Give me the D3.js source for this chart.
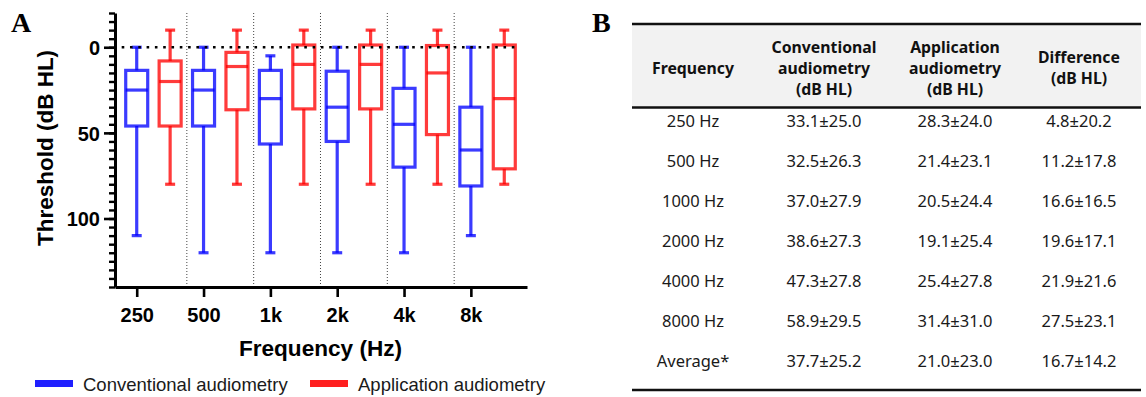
<!DOCTYPE html>
<html><head><meta charset="utf-8">
<script src="https://cdn.jsdelivr.net/npm/d3@7"></script>
<style>body{margin:0;background:#fff}</style></head>
<body><svg id="c" width="1146" height="397"></svg>
<script>
// ---- Panel A data (box plots, dB HL) ----
const categories = ["250", "500", "1k", "2k", "4k", "8k"];
const convMin = [0, 0, 5, 0, 0, 0];
const convQ1  = [13.5, 13.5, 13.5, 14, 24, 35];
const convMed = [25, 25, 30, 35, 45, 60];
const convQ3  = [46, 46, 56.5, 55, 70, 81];
const convMax = [110, 120, 120, 120, 120, 110];
const appMin = [-10, -10, -10, -10, -10, -10];
const appQ1  = [8, 3, -1.3, -1.3, -1, -1.3];
const appMed = [20, 11.25, 10, 10, 15, 30];
const appQ3  = [46, 36.5, 36, 36, 51, 71];
const appMax = [80, 80, 80, 80, 80, 80];
const yMajorTicks = [0, 50, 100];
const seriesNames = ["Conventional audiometry", "Application audiometry"];

// ---- Panel B data (table) ----
const tableHeader = [["Frequency"], ["Conventional", "audiometry", "(dB HL)"], ["Application", "audiometry", "(dB HL)"], ["Difference", "(dB HL)"]];
const tableFreq = ["250 Hz", "500 Hz", "1000 Hz", "2000 Hz", "4000 Hz", "8000 Hz", "Average*"];
const tableConv = ["33.1±25.0", "32.5±26.3", "37.0±27.9", "38.6±27.3", "47.3±27.8", "58.9±29.5", "37.7±25.2"];
const tableApp  = ["28.3±24.0", "21.4±23.1", "20.5±24.4", "19.1±25.4", "25.4±27.8", "31.4±31.0", "21.0±23.0"];
const tableDiff = ["4.8±20.2", "11.2±17.8", "16.6±16.5", "19.6±17.1", "21.9±21.6", "27.5±23.1", "16.7±14.2"];

const svg = d3.select("#c");
const F = "'Liberation Sans', Arial, sans-serif";
const TF = "'Noto Sans', 'Open Sans', sans-serif";

const x = d3.scaleLinear().domain([-0.325, 5.84]).range([115, 527]);
const y = d3.scaleLinear().domain([-20, 140]).range([13, 287]);

// vertical dotted separators
svg.append("g").selectAll("line").data(d3.range(5)).join("line")
  .attr("x1", i => x(i + 0.75)).attr("x2", i => x(i + 0.75))
  .attr("y1", y(-20)).attr("y2", y(140))
  .attr("stroke", "#444").attr("stroke-width", 1).attr("stroke-dasharray", "1,2");

// boxes
const series = [
  {min: convMin, q1: convQ1, med: convMed, q3: convQ3, max: convMax, off: 0, color: "#0000ff"},
  {min: appMin, q1: appQ1, med: appMed, q3: appQ3, max: appMax, off: 0.5, color: "#ff0000"}
];
const boxW = 22, capW = 10, sw = 3.2, op = 0.77;
series.forEach(s => {
  const g = svg.append("g").attr("stroke", s.color).attr("stroke-opacity", op)
    .attr("stroke-width", sw).attr("fill", "none");
  categories.forEach((c, i) => {
    const cx = x(i + s.off);
    g.append("line").attr("x1", cx).attr("x2", cx).attr("y1", y(s.min[i])).attr("y2", y(s.q1[i]));
    g.append("line").attr("x1", cx).attr("x2", cx).attr("y1", y(s.q3[i])).attr("y2", y(s.max[i]));
    g.append("line").attr("x1", cx - capW / 2).attr("x2", cx + capW / 2).attr("y1", y(s.min[i])).attr("y2", y(s.min[i]));
    g.append("line").attr("x1", cx - capW / 2).attr("x2", cx + capW / 2).attr("y1", y(s.max[i])).attr("y2", y(s.max[i]));
    g.append("rect").attr("x", cx - boxW / 2).attr("width", boxW)
      .attr("y", y(s.q1[i])).attr("height", y(s.q3[i]) - y(s.q1[i]));
    g.append("line").attr("x1", cx - boxW / 2).attr("x2", cx + boxW / 2).attr("y1", y(s.med[i])).attr("y2", y(s.med[i]));
  });
});

// zero dotted line
svg.append("line").attr("x1", x(-0.225)).attr("x2", x(5.71)).attr("y1", y(0)).attr("y2", y(0))
  .attr("stroke", "#000").attr("stroke-width", 2.6).attr("stroke-dasharray", "2.6,5.7");

// y axis minor
const yMinor = svg.append("g").attr("transform", "translate(115,0)")
  .call(d3.axisLeft(y).tickValues(d3.range(-20, 141, 5)).tickSize(6).tickSizeOuter(0).tickFormat(""));
yMinor.select(".domain").remove();
yMinor.selectAll(".tick line").attr("stroke-width", 2.4);
// y axis major
const yAx = svg.append("g").attr("transform", "translate(115,0)")
  .call(d3.axisLeft(y).tickValues(yMajorTicks).tickSize(11).tickSizeOuter(0).tickPadding(4));
yAx.select(".domain").attr("stroke-width", 3);
yAx.selectAll(".tick line").attr("stroke-width", 2.6);
yAx.selectAll("text").attr("font-family", F).attr("font-weight", "bold").attr("font-size", 20).attr("dy", "0.36em").attr("fill", "#000");

// x axis
const xAx = svg.append("g").attr("transform", "translate(0,287)")
  .call(d3.axisBottom(x).tickValues(d3.range(categories.length)).tickFormat(i => categories[i])
    .tickSize(10).tickSizeOuter(0).tickPadding(10.5));
xAx.select(".domain").attr("stroke-width", 3);
xAx.selectAll(".tick line").attr("stroke-width", 2.6);
xAx.selectAll("text").attr("font-family", F).attr("font-weight", "bold").attr("font-size", 20).attr("fill", "#000");

// axis titles
svg.append("text").attr("transform", "translate(53,148) rotate(-90)").attr("text-anchor", "middle")
  .attr("font-family", F).attr("font-weight", "bold").attr("font-size", 22.5).text("Threshold (dB HL)");
svg.append("text").attr("x", 320.5).attr("y", 356).attr("text-anchor", "middle")
  .attr("font-family", F).attr("font-weight", "bold").attr("font-size", 22.6).text("Frequency (Hz)");

// legend
const legX = [35, 310];
seriesNames.forEach((n, k) => {
  svg.append("rect").attr("x", legX[k]).attr("y", 380).attr("width", 38).attr("height", 7)
    .attr("fill", series[k].color).attr("fill-opacity", 0.88);
  svg.append("text").attr("x", legX[k] + 48).attr("y", 390.5).attr("font-family", F)
    .attr("font-size", 18.5).attr("fill", "#1a1a1a").text(n);
});

// panel letters
svg.append("text").attr("x", 11).attr("y", 32).attr("font-family", "'Liberation Serif', 'Times New Roman', serif")
  .attr("font-weight", "bold").attr("font-size", 28).text("A");
svg.append("text").attr("x", 592).attr("y", 32).attr("font-family", "'Liberation Serif', 'Times New Roman', serif")
  .attr("font-weight", "bold").attr("font-size", 28).text("B");

// ---- Table ----
const tX0 = 632, tX1 = 1141;
const colX = [693, 824, 955, 1079];
svg.append("rect").attr("x", tX0).attr("y", 24).attr("width", tX1 - tX0).attr("height", 83.5).attr("fill", "#f2f2f2");
[24, 107.5, 390].forEach(yy => svg.append("line").attr("x1", tX0).attr("x2", tX1).attr("y1", yy).attr("y2", yy)
  .attr("stroke", "#111").attr("stroke-width", 2.6));
tableHeader.forEach((lines, c) => {
  lines.forEach((t, k) => {
    svg.append("text").attr("x", colX[c]).attr("y", 73.5 + (k - (lines.length - 1) / 2) * 21)
      .attr("text-anchor", "middle").attr("font-family", TF).attr("font-weight", "bold")
      .attr("font-size", 15.8).attr("fill", "#111").text(t);
  });
});
[tableFreq, tableConv, tableApp, tableDiff].forEach((col, c) => {
  svg.append("g").selectAll("text").data(col).join("text")
    .attr("x", colX[c]).attr("y", (d, r) => 126.5 + r * 40)
    .attr("text-anchor", "middle").attr("font-family", TF).attr("font-size", 16.5).attr("fill", "#1a1a1a")
    .text(d => d);
});
</script></body></html>
